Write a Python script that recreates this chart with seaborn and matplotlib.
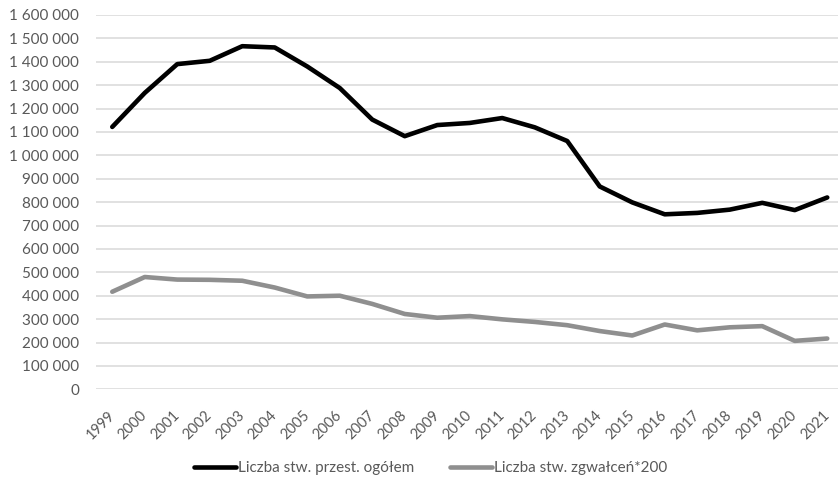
import matplotlib
matplotlib.use("Agg")
import matplotlib.pyplot as plt
from matplotlib.ticker import FuncFormatter, MultipleLocator
import seaborn as sns
import pandas as pd

years = [str(y) for y in range(1999, 2022)]
total_crimes = [1121545, 1266910, 1390089, 1404229, 1466643, 1461217, 1379962,
                1287918, 1152993, 1082057, 1129577, 1138523, 1159554, 1119803,
                1061229, 867000, 799000, 748000, 754000, 768000, 797000,
                766000, 820000]
rapes_x200 = [417000, 480000, 469000, 468000, 464000, 435000, 397000, 400000,
              365000, 322000, 306000, 313000, 299000, 288000, 274000, 249000,
              230000, 277000, 252000, 265000, 270000, 207000, 217000]
series_names = ["Liczba stw. przest. ogółem", "Liczba stw. zgwałceń*200"]
series_colors = ["#000000", "#8f8f8f"]

df = pd.concat([
    pd.DataFrame({"rok": range(len(years)), "wartość": total_crimes, "seria": series_names[0]}),
    pd.DataFrame({"rok": range(len(years)), "wartość": rapes_x200, "seria": series_names[1]}),
])

sns.set_theme(style="white")
plt.rcParams["font.family"] = ["Lato", "DejaVu Sans"]

W, H = 838, 484
fig = plt.figure(figsize=(W / 100, H / 100), dpi=100)
left, right, top, bottom = 96, 843.5, 15, 389.3
ax = fig.add_axes([left / W, 1 - bottom / H, (right - left) / W, (bottom - top) / H])

sns.lineplot(data=df, x="rok", y="wartość", hue="seria", hue_order=series_names,
             palette=series_colors, linewidth=3.3, ax=ax, legend=False,
             solid_capstyle="round", solid_joinstyle="round", zorder=3)

ax.set_xlim(-0.5, len(years) - 0.5)
ax.set_ylim(0, 1600000)
ax.yaxis.set_major_locator(MultipleLocator(100000))
ax.yaxis.set_major_formatter(FuncFormatter(lambda v, p: f"{int(v):,}".replace(",", " ")))
ax.set_xticks(range(len(years)))
ax.set_xticklabels(years, rotation=45, ha="right", va="center", rotation_mode="anchor")
ax.grid(axis="y", color="#d9d9d9", linewidth=1.1, zorder=0)
ax.grid(axis="x", visible=False)
for s in ax.spines.values():
    s.set_visible(False)
ax.tick_params(axis="y", length=0, pad=12, labelsize=11, labelcolor="#595959")
ax.tick_params(axis="x", length=0, pad=17, labelsize=10.5, labelcolor="#595959")
ax.set_xlabel("")
ax.set_ylabel("")

handles = [plt.Line2D([], [], color=c, linewidth=3.3) for c in series_colors]
fig.legend(handles, series_names, loc="center", bbox_to_anchor=(430.5 / W, (H - 468) / H),
           ncol=2, frameon=False, fontsize=11, labelcolor="#595959",
           handlelength=2.75, handletextpad=0.15, columnspacing=2.3)

fig.savefig("out.png", dpi=100)
